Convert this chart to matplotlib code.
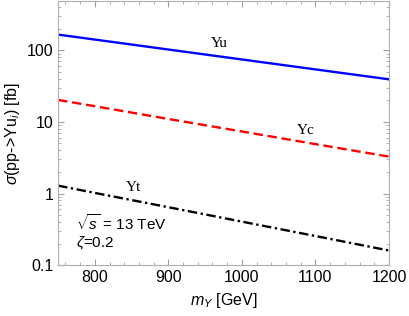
import numpy as np
import matplotlib
matplotlib.use("Agg")
import matplotlib.pyplot as plt
from matplotlib.ticker import FixedLocator, LogLocator, NullFormatter, FuncFormatter

plt.rcParams['font.family'] = ['Liberation Sans', 'DejaVu Sans']
plt.rcParams['mathtext.fontset'] = 'custom'
plt.rcParams['mathtext.rm'] = 'Liberation Sans'
plt.rcParams['mathtext.it'] = 'Liberation Sans:italic'

# masses (GeV) and cross sections (fb)
m_Y = [750, 800, 900, 1000, 1100, 1200]
sigma_Yu = [166, 141.5, 102.7, 74.6, 54.2, 39.4]
sigma_Yc = [20.3, 16.6, 11.0, 7.36, 4.9, 3.28]
sigma_Yt = [1.29, 1.02, 0.644, 0.405, 0.255, 0.16]

fig = plt.figure(figsize=(4.09, 3.16), dpi=100)
ax = fig.add_axes([0.142, 0.161, 0.809, 0.836])

ax.plot(m_Y, sigma_Yu, color="#0000ff", lw=1.7)
ax.plot(m_Y, sigma_Yc, color="#ff0000", lw=1.7, dashes=(4, 2))
ax.plot(m_Y, sigma_Yt, color="black", lw=1.7, dashes=(4, 1.5, 1, 1.5))

ax.set_yscale("log")
ax.set_xlim(750, 1200)
ax.set_ylim(0.1, 490)

ax.xaxis.set_major_locator(FixedLocator([800, 900, 1000, 1100, 1200]))
ax.xaxis.set_minor_locator(FixedLocator(np.arange(760, 1200, 20)))
ax.yaxis.set_major_locator(FixedLocator([0.1, 1, 10, 100]))
ax.yaxis.set_minor_locator(LogLocator(base=10, subs=np.arange(2, 10), numticks=20))
ax.yaxis.set_major_formatter(FuncFormatter(lambda v, p: "%g" % v))
ax.yaxis.set_minor_formatter(NullFormatter())

for s in ax.spines.values():
    s.set_color("#b0b0b0")
ax.tick_params(which="both", direction="in", top=True, right=True, color="#a0a0a0",
               labelsize=11.5)
ax.tick_params(which="major", length=4, width=0.8)
ax.tick_params(which="minor", length=2, width=0.6)

ax.set_xlabel(r"$m_Y$ [GeV]", fontsize=11.5, labelpad=4)
ax.set_ylabel(r"$\sigma$(pp->Yu$_{i}$) [fb]", fontsize=11.5, labelpad=3)

ax.text(969, 125, "Yu", fontsize=11, family="Liberation Serif",
        ha="center", va="center")
ax.text(1087, 7.7, "Yc", fontsize=11, family="Liberation Serif",
        ha="center", va="center")
ax.text(852, 1.21, "Yt", fontsize=11, family="Liberation Serif",
        ha="center", va="center")

ax.text(0.055, 0.16, r"$\sqrt{s}$ = 13 TeV", transform=ax.transAxes, fontsize=11,
        va="center")
ax.text(0.055, 0.085, r"$\zeta$=0.2", transform=ax.transAxes, fontsize=11,
        va="center")

fig.savefig("out.png", dpi=100)
